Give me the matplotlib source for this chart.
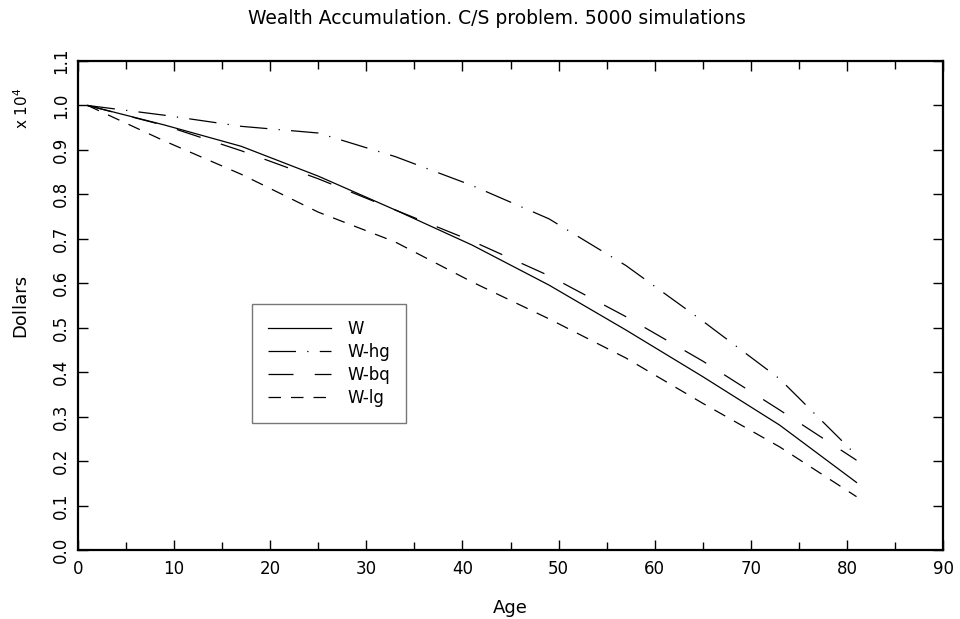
import matplotlib
matplotlib.use("Agg")
import matplotlib.pyplot as plt
from matplotlib.ticker import FixedLocator

age = [1, 9, 17, 25, 33, 41, 49, 57, 65, 73, 81]
w    = [1.000, 0.956, 0.908, 0.841, 0.765, 0.686, 0.596, 0.495, 0.390, 0.281, 0.152]
w_hg = [1.000, 0.978, 0.953, 0.938, 0.885, 0.820, 0.745, 0.640, 0.515, 0.385, 0.213]
w_bq = [1.000, 0.955, 0.898, 0.835, 0.765, 0.695, 0.617, 0.525, 0.425, 0.315, 0.202]
w_lg = [1.000, 0.920, 0.845, 0.760, 0.693, 0.603, 0.520, 0.432, 0.330, 0.232, 0.120]

title = "Wealth Accumulation. C/S problem. 5000 simulations"
labels = ["W", "W-hg", "W-bq", "W-lg"]
xticks = [0, 10, 20, 30, 40, 50, 60, 70, 80, 90]
yticks = [0.0, 0.1, 0.2, 0.3, 0.4, 0.5, 0.6, 0.7, 0.8, 0.9, 1.0, 1.1]

plt.rcParams['font.family'] = ['DejaVu Sans']

fig = plt.figure(figsize=(9.6, 6.19), dpi=100)
ax = fig.add_axes([78/960, 69/619, 865/960, 489/619])

lw = 0.9
ax.plot(age, w, color='black', lw=lw, linestyle='-', label=labels[0])
ax.plot(age, w_hg, color='black', lw=lw, linestyle=(0, (22, 9, 1, 9)), label=labels[1])
ax.plot(age, w_bq, color='black', lw=lw, linestyle=(0, (20, 17)), label=labels[2])
ax.plot(age, w_lg, color='black', lw=lw, linestyle=(0, (10, 8)), label=labels[3])

ax.set_xlim(0, 90)
ax.set_ylim(0, 1.1)
ax.set_xticks(xticks)
ax.xaxis.set_minor_locator(FixedLocator([5, 15, 25, 35, 45, 55, 65, 75, 85]))
ax.set_yticks(yticks)
ax.set_yticklabels([f"{v:.1f}" for v in yticks], rotation=90, va='center')
ax.tick_params(axis='both', which='both', direction='in', top=True, right=True,
               length=7, width=1, labelsize=12, colors='black')
ax.tick_params(axis='x', which='minor', length=6)
ax.tick_params(axis='x', pad=7)
ax.tick_params(axis='y', pad=6)
for s in ax.spines.values():
    s.set_linewidth(1.6)

ax.set_xlabel("Age", fontsize=13, labelpad=15)
ax.set_ylabel("Dollars", fontsize=13, labelpad=16)
fig.text(497/960, 1 - 18/619, title, ha='center', va='center', fontsize=13.5)
fig.text(22/960, 1 - 108/619, r"x $10^4$", rotation=90, ha='center', va='center', fontsize=11)

leg = ax.legend(loc='upper left', bbox_to_anchor=((252-78)/865, (550-304)/489),
                frameon=True, fancybox=False, edgecolor='#555555', fontsize=12,
                handlelength=3.8, handletextpad=1.0, labelspacing=0.3,
                borderpad=0.95, borderaxespad=0)
leg.get_frame().set_linewidth(1.0)

fig.savefig("out.png", dpi=100)
